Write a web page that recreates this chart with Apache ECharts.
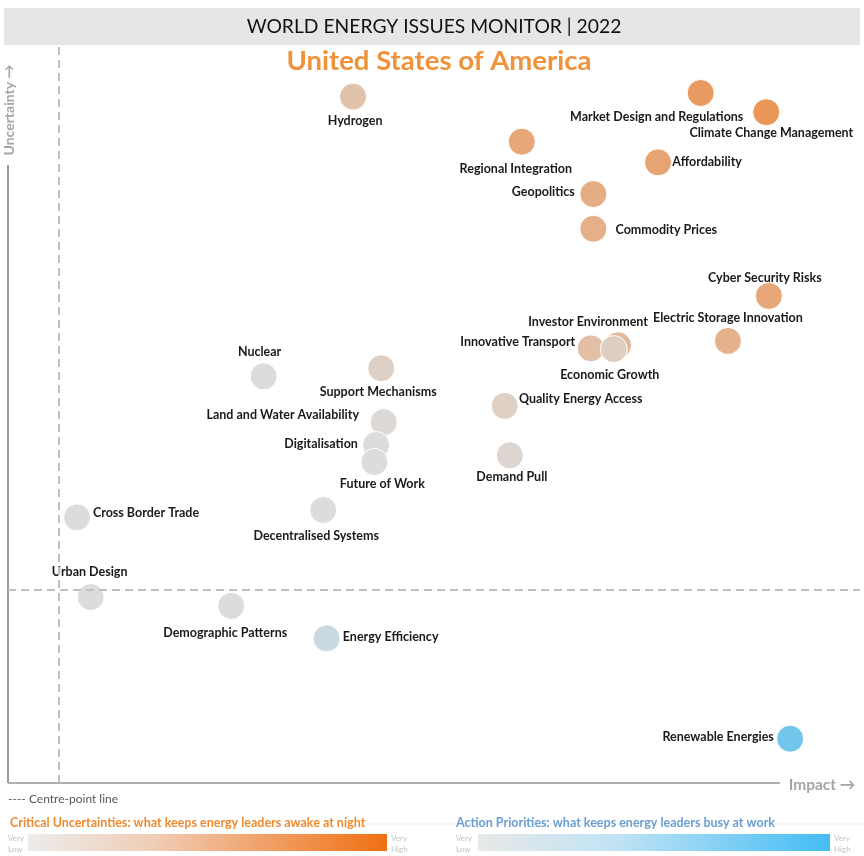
<!DOCTYPE html>
<html><head><meta charset="utf-8">
<script src="https://cdn.jsdelivr.net/npm/echarts@6/dist/echarts.min.js"></script>
<style>html,body{margin:0;padding:0;background:#fff}#c{width:864px;height:856px}</style>
</head><body><div id="c"></div>
<script>
// ---- data (impact / uncertainty on 0-10 scale, criticality: + = critical uncertainty (orange), - = action priority (blue))
const issues = [
  'Hydrogen','Market Design and Regulations','Climate Change Management','Regional Integration',
  'Affordability','Geopolitics','Commodity Prices','Cyber Security Risks','Electric Storage Innovation',
  'Innovative Transport','Investor Environment','Economic Growth','Nuclear','Support Mechanisms',
  'Quality Energy Access','Land and Water Availability','Digitalisation','Future of Work','Demand Pull',
  'Cross Border Trade','Decentralised Systems','Urban Design','Demographic Patterns','Energy Efficiency',
  'Renewable Energies'
];
const impact = [4.05,8.13,8.90,6.03,7.63,6.87,6.87,8.93,8.45,6.84,7.16,7.11,3.00,4.38,5.83,4.41,4.32,4.30,5.89,0.81,3.70,0.97,2.62,3.74,9.18];
const uncertainty = [9.30,9.35,9.09,8.69,8.41,7.98,7.51,6.60,5.99,5.89,5.93,5.88,5.51,5.62,5.11,4.89,4.58,4.35,4.44,3.60,3.70,2.52,2.40,1.96,0.60];
const criticality = [0.26,0.66,0.70,0.53,0.56,0.47,0.44,0.53,0.43,0.29,0.36,0.15,0.0,0.12,0.12,0.03,0.0,0.0,0.07,0.0,0.0,0.0,0.0,-0.12,-0.69];
const centreImpact = 0.59;
const centreUncertainty = 2.62;
const titleText = 'WORLD ENERGY ISSUES MONITOR | 2022';
const countryText = 'United States of America';

// ---- label placement (offset of label centre from bubble centre, px)
const labelOffsets = {
  'Hydrogen':[2,24],'Market Design and Regulations':[-44,24],'Climate Change Management':[5,21],
  'Regional Integration':[-6,27],'Affordability':[49,0],'Geopolitics':[-50,-2],'Commodity Prices':[73,1],
  'Cyber Security Risks':[-4,-18],'Electric Storage Innovation':[0,-23],'Innovative Transport':[-73,-6],
  'Investor Environment':[-30,-23],'Economic Growth':[-4,26],'Nuclear':[-4,-24],'Support Mechanisms':[-3,24],
  'Quality Energy Access':[76,-7],'Land and Water Availability':[-101,-7],'Digitalisation':[-55,-1],
  'Future of Work':[8,22],'Demand Pull':[2,22],'Cross Border Trade':[69,-4],'Decentralised Systems':[-7,26],
  'Urban Design':[-1,-25],'Demographic Patterns':[-6,27],'Energy Efficiency':[64,-1],'Renewable Energies':[-72,-2]
};

const data = issues.map((n,i)=>({
  name:n, value:[impact[i],uncertainty[i],criticality[i]],
  label:{offset:labelOffsets[n]||[0,0]}
}));

const chart = echarts.init(document.getElementById('c'));
const FONT = 'Lato, "Open Sans", sans-serif';
chart.setOption({
  animation:false,
  grid:{left:8,right:4,top:45,bottom:73},
  xAxis:{type:'value',min:0,max:10,show:false},
  yAxis:{type:'value',min:0,max:10,show:false},
  visualMap:{show:false,type:'continuous',dimension:2,min:-1,max:1,seriesIndex:0,
    inRange:{color:['#44bcf2','#dcdcdc','#f07820']}},
  series:[{
    type:'scatter',symbolSize:27,
    itemStyle:{borderColor:'#fff',borderWidth:1,opacity:1},
    label:{show:true,position:'inside',formatter:'{b}',color:'#1a1a1a',fontFamily:FONT,fontWeight:'bold',fontSize:12.5},
    data:data,
    markLine:{silent:true,symbol:'none',label:{show:false},
      lineStyle:{color:'#bfbfbf',type:[8,5],width:2},
      data:[{xAxis:centreImpact},{yAxis:centreUncertainty}]}
  }],
  graphic:[
    {type:'rect',shape:{x:4,y:8,width:856,height:37},style:{fill:'#e6e6e6'},z:-1},
    {type:'text',x:434,y:27,style:{text:titleText,fill:'#111',font:'19.3px '+FONT,align:'center',verticalAlign:'middle'}},
    {type:'text',x:439,y:61,style:{text:countryText,fill:'#f0923a',font:'bold 27.5px '+FONT,align:'center',verticalAlign:'middle'}},
    {type:'line',shape:{x1:8,y1:165,x2:8,y2:783},style:{stroke:'#9a9a9a',lineWidth:2}},
    {type:'line',shape:{x1:8,y1:783,x2:780,y2:783},style:{stroke:'#b0b0b0',lineWidth:2}},
    {type:'text',x:9,y:110,rotation:Math.PI/2,style:{text:'Uncertainty →',fill:'#a4a4a4',font:'bold 14px '+FONT,align:'center',verticalAlign:'middle'}},
    {type:'text',x:822,y:785,style:{text:'Impact →',fill:'#a4a4a4',font:'bold 15.5px '+FONT,align:'center',verticalAlign:'middle'}},
    {type:'text',x:8,y:799,style:{text:'---- Centre-point line',fill:'#595959',font:'12px '+FONT,verticalAlign:'middle'}},
    {type:'line',shape:{x1:366,y1:824,x2:864,y2:824},style:{stroke:'#efefef',lineWidth:1}},
    {type:'text',x:10,y:823,style:{text:'Critical Uncertainties: what keeps energy leaders awake at night',fill:'#f08a30',font:'bold 12.5px '+FONT,verticalAlign:'middle'}},
    {type:'rect',shape:{x:28,y:834,width:359,height:17},style:{fill:new echarts.graphic.LinearGradient(0,0,1,0,[{offset:0,color:'#ececec'},{offset:0.35,color:'#f0cdb6'},{offset:1,color:'#f07012'}])}},
    {type:'text',x:8,y:838,style:{text:'Very',fill:'#c4c4c4',font:'8px '+FONT,verticalAlign:'middle'}},
    {type:'text',x:8,y:849,style:{text:'Low',fill:'#c4c4c4',font:'8px '+FONT,verticalAlign:'middle'}},
    {type:'text',x:391,y:838,style:{text:'Very',fill:'#c4c4c4',font:'8px '+FONT,verticalAlign:'middle'}},
    {type:'text',x:391,y:849,style:{text:'High',fill:'#c4c4c4',font:'8px '+FONT,verticalAlign:'middle'}},
    {type:'text',x:456,y:823,style:{text:'Action Priorities: what keeps energy leaders busy at work',fill:'#6b9fd3',font:'bold 12.5px '+FONT,verticalAlign:'middle'}},
    {type:'rect',shape:{x:478,y:834,width:352,height:17},style:{fill:new echarts.graphic.LinearGradient(0,0,1,0,[{offset:0,color:'#e8e8e8'},{offset:0.4,color:'#bfe3f4'},{offset:1,color:'#44bcf4'}])}},
    {type:'text',x:456,y:838,style:{text:'Very',fill:'#c4c4c4',font:'8px '+FONT,verticalAlign:'middle'}},
    {type:'text',x:456,y:849,style:{text:'Low',fill:'#c4c4c4',font:'8px '+FONT,verticalAlign:'middle'}},
    {type:'text',x:834,y:838,style:{text:'Very',fill:'#c4c4c4',font:'8px '+FONT,verticalAlign:'middle'}},
    {type:'text',x:834,y:849,style:{text:'High',fill:'#c4c4c4',font:'8px '+FONT,verticalAlign:'middle'}}
  ]
});
</script></body></html>
